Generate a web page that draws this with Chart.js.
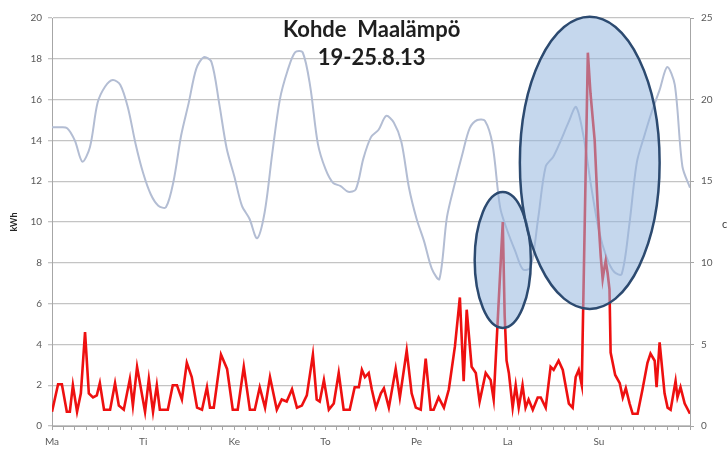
<!DOCTYPE html>
<html>
<head>
<meta charset="utf-8">
<script src="https://cdn.jsdelivr.net/npm/chart.js@4"></script>
<style>
  html, body { margin: 0; padding: 0; background: #fff; }
  #wrap { width: 727px; height: 451px; }
</style>
</head>
<body>
<div id="wrap"><canvas id="chart" width="727" height="451"></canvas></div>
<script>
// Days of the week (Finnish), one label every 24 hours
const dayLabels = ['Ma', 'Ti', 'Ke', 'To', 'Pe', 'La', 'Su'];

// Energy use (kWh): hour of week / value
const energyHours = [0, 1.6, 2.6, 3.9, 4.7, 5.5, 6.6, 7.6, 8.7, 9.7, 10.8, 11.8, 12.6, 13.7, 15.3, 16.6, 17.6, 18.9, 20.5, 21.3, 22.4,
  24.5, 25.5, 26.6, 27.6, 28.4, 30.5, 31.8, 32.9, 34.2, 35.5, 36.8, 38.2, 39.5, 40.8, 41.6, 42.6, 44.5, 46.1, 47.6,
  48.9, 50.5, 52.1, 53.4, 54.7, 56.1, 57.4, 59.2, 60.5, 61.8, 63.2, 64.5, 65.8, 67.1, 68.7, 69.7, 70.5, 71.6,
  72.9, 74.2, 75.5, 76.8, 78.4, 79.7, 80.8, 81.6, 82.4, 83.4, 84.2, 85.3, 86.6, 87.4, 88.7, 90.5, 91.6, 93.4, 94.7, 95.8,
  97.1, 98.4, 99.7, 100.5, 101.8, 103.2, 104.5, 106.1, 107.4, 108.4, 109.2, 110.5, 111.6, 112.6, 114.2, 115.5, 116.3, 118.7, 119.2, 119.7,
  120.3, 121.3, 122.1, 122.9, 123.9, 124.7, 125.5, 126.6, 127.9, 128.7, 130.0, 131.3, 132.1, 133.4, 134.5, 136.1, 137.1, 137.9, 138.7, 139.5,
  141.1, 141.8, 142.9, 143.7, 144.5, 145.0, 145.5, 145.8, 146.3, 146.8, 147.1, 148.3, 149.5, 150.3, 151.1, 152.1, 152.9, 154.2, 155.5,
  156.8, 157.6, 158.7, 159.2, 160.0, 161.3, 162.1, 162.9, 164.2, 164.7, 165.5, 166.6, 168];
const energyKwh = [0.7, 2.05, 2.05, 0.7, 0.7, 2.0, 0.7, 1.6, 4.6, 1.6, 1.4, 1.5, 2.1, 0.8, 0.8, 2.1, 1.0, 0.8, 2.3, 1.0, 2.9,
  0.7, 2.3, 0.7, 2.0, 0.8, 0.8, 2.0, 2.0, 1.3, 3.1, 2.4, 0.9, 0.8, 1.9, 0.9, 0.9, 3.5, 2.8, 0.8,
  0.8, 2.9, 0.8, 0.8, 1.9, 0.9, 2.4, 0.8, 1.3, 1.2, 1.8, 0.9, 1.0, 1.5, 3.5, 1.3, 1.2, 2.25,
  0.8, 1.1, 2.6, 0.8, 0.8, 1.9, 1.9, 2.75, 2.4, 2.6, 1.8, 0.9, 1.6, 1.85, 0.9, 2.8, 1.4, 3.7, 1.6, 0.9,
  0.8, 3.3, 0.8, 0.8, 1.4, 0.9, 1.8, 3.9, 6.3, 2.2, 5.7, 2.9, 2.6, 1.2, 2.6, 2.25, 1.3, 10.0, 5.4, 3.2,
  2.6, 0.9, 2.0, 0.9, 2.0, 0.9, 1.3, 0.8, 1.4, 1.4, 0.9, 2.9, 2.75, 3.2, 2.75, 1.1, 0.9, 2.4, 2.75, 2.0,
  18.3, 16.3, 14.0, 10.7, 8.3, 7.2, 7.8, 8.1, 7.5, 6.7, 3.6, 2.5, 2.1, 1.4, 1.85, 1.1, 0.6, 0.6, 1.8,
  3.1, 3.55, 3.2, 1.9, 4.1, 1.6, 0.9, 0.8, 2.2, 1.4, 1.9, 1.1, 0.6];

// Outdoor temperature (°C, right axis), one reading every 2 hours
const tempC = [18.3, 18.3, 18.25, 17.5, 16.2, 17.1, 19.8, 20.8, 21.2, 20.9, 19.5, 17.3,
  15.5, 14.2, 13.5, 13.4, 15.0, 17.8, 19.8, 21.9, 22.6, 22.3, 19.8, 17.0,
  15.3, 13.5, 12.7, 11.5, 13.1, 16.7, 20.0, 21.75, 22.9, 22.9, 20.8, 17.3,
  15.75, 14.9, 14.7, 14.35, 14.5, 16.4, 17.7, 18.15, 19.0, 18.6, 17.4, 14.6,
  12.7, 11.3, 9.65, 9.0, 12.8, 14.8, 16.6, 18.25, 18.75, 18.7, 17.25, 13.4,
  11.9, 10.7, 9.6, 9.7, 12.7, 15.9, 16.5, 17.5, 18.6, 19.55, 17.7, 14.65,
  12.0, 10.35, 9.45, 9.3, 12.3, 16.15, 17.8, 19.3, 20.6, 22.0, 20.9, 15.9, 14.6];
const tempStepHours = 2;

// Highlighted periods (ellipses), in data units: centre hour, centre kWh, half width (h), half height (kWh)
const highlightHours = [118.7, 141.6];
const highlightKwh = [8.14, 12.9];
const highlightHalfHours = [7.4, 18.4];
const highlightHalfKwh = [3.33, 7.16];

const titleLines = ['Kohde  Maalämpö', '19-25.8.13'];

const energyPoints = energyHours.map((h, i) => ({ x: h, y: energyKwh[i] }));
const tempPoints = tempC.map((t, i) => ({ x: i * tempStepHours, y: t }));

const AXIS = '#a6a6a6';
const TICK_TXT = '#595959';

const highlightPlugin = {
    id: 'highlights',
    afterDatasetsDraw(chart) {
        const { ctx, scales: { x, y } } = chart;
        ctx.save();
        highlightHours.forEach((h, i) => {
            const cx = x.getPixelForValue(h);
            const cy = y.getPixelForValue(highlightKwh[i]);
            const rx = x.getPixelForValue(h + highlightHalfHours[i]) - cx;
            const ry = cy - y.getPixelForValue(highlightKwh[i] + highlightHalfKwh[i]);
            ctx.beginPath();
            ctx.ellipse(cx, cy, rx, ry, 0, 0, Math.PI * 2);
            ctx.fillStyle = 'rgba(150, 182, 222, 0.55)';
            ctx.fill();
            ctx.lineWidth = 2.5;
            ctx.strokeStyle = '#2c4a70';
            ctx.stroke();
        });
        ctx.restore();
    }
};

const titlePlugin = {
    id: 'innerTitle',
    afterDraw(chart) {
        const { ctx, chartArea } = chart;
        ctx.save();
        ctx.fillStyle = '#1e1e1e';
        ctx.textAlign = 'center';
        ctx.textBaseline = 'middle';
        ctx.font = 'bold 22px Lato';
        const cx = chartArea.left + (chartArea.right - chartArea.left) * 0.501;
        ctx.fillText(titleLines[0], cx, chartArea.top + 12);
        ctx.fillText(titleLines[1], cx, chartArea.top + 40);
        // axis units
        ctx.font = 'bold 9px Lato';
        ctx.fillStyle = '#262626';
        ctx.translate(14, (chartArea.top + chartArea.bottom) / 2);
        ctx.rotate(-Math.PI / 2);
        ctx.fillText('kWh', 0, 0);
        ctx.restore();
        ctx.save();
        ctx.font = '11px Lato';
        ctx.fillStyle = '#404040';
        ctx.textAlign = 'left';
        ctx.textBaseline = 'middle';
        ctx.fillText('c', chartArea.right + 32, (chartArea.top + chartArea.bottom) / 2 + 2);
        ctx.restore();
    }
};

new Chart(document.getElementById('chart'), {
    type: 'line',
    data: {
        datasets: [
            {
                label: 'kWh',
                data: energyPoints,
                yAxisID: 'y',
                borderColor: '#ee1010',
                borderWidth: 2.6,
                pointRadius: 0,
                tension: 0,
                order: 0
            },
            {
                label: '°C',
                data: tempPoints,
                yAxisID: 'y1',
                borderColor: '#b3bdd3',
                borderWidth: 2,
                pointRadius: 0,
                tension: 0.3,
                order: 1
            }
        ]
    },
    options: {
        responsive: false,
        animation: false,
        layout: { padding: { top: 18, left: 0, right: 0, bottom: 0 } },
        plugins: {
            legend: { display: false },
            tooltip: { enabled: false }
        },
        scales: {
            x: {
                type: 'linear',
                min: 0,
                max: 168,
                grid: { drawOnChartArea: false, color: AXIS, tickLength: 4 },
                border: { color: AXIS },
                ticks: {
                    stepSize: 3,
                    maxTicksLimit: 100,
                    autoSkip: false,
                    maxRotation: 0,
                    padding: 6,
                    color: TICK_TXT,
                    font: { family: 'Lato', size: 10 },
                    callback: (v) => (v % 24 === 0 && v < 168) ? dayLabels[v / 24] : ''
                },
                afterFit: (s) => { s.height = 25; }
            },
            y: {
                position: 'left',
                min: 0,
                max: 20,
                grid: { color: '#c4c4c4', lineWidth: 1.3, tickLength: 4 },
                border: { color: AXIS },
                ticks: { stepSize: 2, padding: 6, color: TICK_TXT, font: { family: 'Lato', size: 10 } },
                afterFit: (s) => { s.width = 52; }
            },
            y1: {
                position: 'right',
                min: 0,
                max: 25,
                grid: { drawOnChartArea: false, color: AXIS, tickLength: 4 },
                border: { color: AXIS },
                ticks: { stepSize: 5, padding: 7, color: TICK_TXT, font: { family: 'Lato', size: 10 } },
                afterFit: (s) => { s.width = 37; }
            }
        }
    },
    plugins: [highlightPlugin, titlePlugin]
});
</script>
</body>
</html>
